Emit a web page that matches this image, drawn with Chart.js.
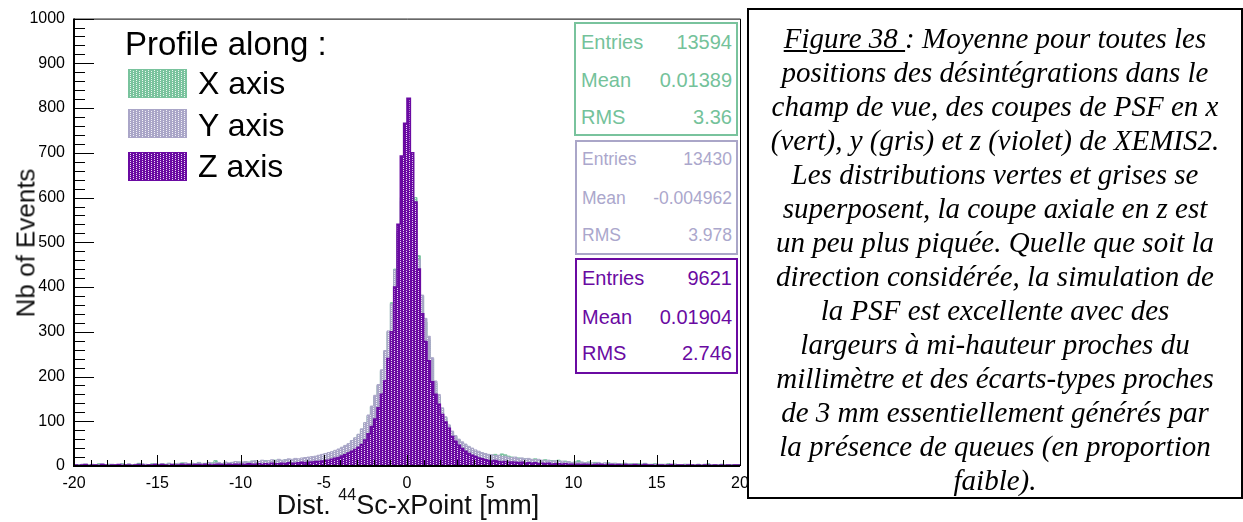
<!DOCTYPE html>
<html>
<head>
<meta charset="utf-8">
<script src="https://cdn.jsdelivr.net/npm/chart.js@4.4.1/dist/chart.umd.min.js"></script>
<style>
  html, body { margin:0; padding:0; background:#fff; }
  body { width:1243px; height:522px; position:relative; overflow:hidden; font-family:"Liberation Sans", Arial, sans-serif; }
  #c { position:absolute; left:0; top:0; }
  .abs { position:absolute; white-space:nowrap; }
  #ytitle { left:26px; top:243px; font-size:26px; color:#111; transform:translate(-50%,-50%) rotate(-90deg); }
  #xtitle { left:408px; top:505px; font-size:27px; color:#111; transform:translate(-50%,-50%); }
  #xtitle sup { font-size:16px; position:relative; top:-4px; }
  .lg-title { left:125px; top:27px; font-size:33px; line-height:34px; color:#000; }
  .sw { position:absolute; left:128px; width:59px; height:29px; box-sizing:border-box; }
  .lg-txt { left:198px; font-size:32px; line-height:34px; color:#000; }
  .stat { position:absolute; box-sizing:border-box; border:2px solid; background:#fff; }
  .row { position:absolute; left:5px; right:4px; height:24px; line-height:24px; display:flex; justify-content:space-between; }
  #caption { position:absolute; left:747px; top:8px; width:496px; height:491px; box-sizing:border-box; border:2px solid #000;
             font-family:"Liberation Serif","Times New Roman",serif; font-style:italic; font-size:29px; line-height:34px;
             text-align:center; color:#000; padding-top:11px; }
</style>
</head>
<body>
<canvas id="c" width="760" height="522"></canvas>

<div id="ytitle" class="abs">Nb of Events</div>
<div id="xtitle" class="abs">Dist. <sup>44</sup>Sc-xPoint [mm]</div>

<div class="abs lg-title">Profile along :</div>
<div class="sw" id="sw0" style="top:69px"></div>
<div class="sw" id="sw1" style="top:109px"></div>
<div class="sw" id="sw2" style="top:152px"></div>
<div class="abs lg-txt" id="lt0" style="top:66px"></div>
<div class="abs lg-txt" id="lt1" style="top:108px"></div>
<div class="abs lg-txt" id="lt2" style="top:149px"></div>

<div id="stats"></div>

<div id="caption">
<u>Figure 38 </u>: Moyenne pour toutes les<br>
positions des désintégrations dans le<br>
champ de vue, des coupes de PSF en x<br>
(vert), y (gris) et z (violet) de XEMIS2.<br>
Les distributions vertes et grises se<br>
superposent, la coupe axiale en z est<br>
un peu plus piquée. Quelle que soit la<br>
direction considérée, la simulation de<br>
la PSF est excellente avec des<br>
largeurs à mi-hauteur proches du<br>
millimètre et des écarts-types proches<br>
de 3 mm essentiellement générés par<br>
la présence de queues (en proportion<br>
faible).
</div>

<script>
// ---------- DATA ----------
const seriesNames = ["X axis", "Y axis", "Z axis"];
const binLow = -20;
const binWidth = 0.2;
const xTickLabels = [-20, -15, -10, -5, 0, 5, 10, 15, 20];
const yTickLabels = [0, 100, 200, 300, 400, 500, 600, 700, 800, 900, 1000];

// X axis profile (green), 200 bins from -20 to 20
const xAxisCounts = [
  2,3,1,4,2,3,2,5,3,2,4,3,2,3,5,2,4,3,3,6,4,2,3,5,4,
  3,5,4,6,3,5,4,7,5,4,6,5,8,4,6,5,7,12,6,5,7,6,8,7,9,
  8,7,9,11,8,10,9,12,10,11,13,10,12,14,11,13,15,12,14,18,15,17,20,18,22,
  26,28,30,33,36,40,44,48,56,62,70,82,96,112,132,155,180,212,255,300,365,440,520,600,688,
  694,690,600,470,380,322,282,240,186,155,128,108,90,76,66,58,52,47,42,38,34,31,28,27,25,
  24,26,23,27,25,22,20,19,18,17,16,15,14,16,13,12,14,11,12,10,13,9,11,10,8,
  9,12,8,7,9,6,8,7,5,6,7,5,6,4,5,6,4,5,3,5,4,6,3,4,5,
  3,4,2,5,3,4,3,2,4,3,2,3,4,2,3,5,2,3,2,4,3,2,3,2,3
];
// Y axis profile (grey)
const yAxisCounts = [
  3,2,4,3,2,4,3,3,5,2,3,4,3,2,4,3,5,3,4,3,5,4,3,4,5,
  4,5,3,6,4,5,6,4,7,5,6,5,7,6,5,8,6,7,8,6,9,7,8,10,9,
  9,10,8,11,12,10,13,11,12,14,12,15,13,14,16,15,17,16,18,19,20,21,22,24,26,
  28,30,32,35,38,42,46,50,57,63,71,83,97,114,134,158,182,215,258,302,362,438,525,592,600,
  604,595,560,462,382,330,290,242,190,160,130,110,92,78,68,60,54,49,44,40,36,33,30,28,26,
  25,23,24,21,22,20,19,20,17,18,16,17,15,14,15,13,12,13,11,12,10,11,9,10,8,
  9,8,9,7,8,7,6,8,6,7,5,6,6,5,4,6,5,4,5,3,4,5,4,3,4,
  4,3,4,2,3,4,3,2,3,4,2,3,3,2,4,2,3,2,3,2,3,2,2,3,2
];
// Z axis profile (violet)
const zAxisCounts = [
  2,1,2,3,1,2,2,1,3,2,1,2,2,3,1,2,2,1,2,3,2,1,2,2,3,
  2,3,2,1,3,2,2,4,2,3,2,3,3,2,4,3,2,3,4,3,3,4,3,4,4,
  4,3,5,4,4,5,3,5,4,6,5,5,6,5,7,6,6,7,8,7,8,9,10,10,11,
  12,13,15,17,19,22,25,29,33,37,42,48,58,72,88,105,130,160,190,240,300,400,540,693,766,
  822,700,590,440,340,278,235,188,160,138,115,98,84,66,55,46,39,33,28,24,21,18,16,14,12,
  11,12,10,9,10,8,9,8,7,8,6,7,6,7,5,6,5,6,4,5,5,4,5,4,4,
  3,4,3,4,3,2,3,4,3,2,3,3,2,3,2,3,2,2,3,2,2,3,2,2,1,
  2,2,1,2,3,1,2,2,1,2,2,1,2,1,2,2,1,2,1,2,1,2,1,2,2
];

const statEntries = ["13594", "13430", "9621"];
const statMeans = ["0.01389", "-0.004962", "0.01904"];
const statRMS = ["3.36", "3.978", "2.746"];

// ---------- STYLE ----------
const colors = ["#79c39d", "#aaa6c8", "#6a0aa2"];
const textColors = ["#74c29a", "#aba7cc", "#6a0aa2"];

function makeTile(color) {
  const c = document.createElement('canvas');
  c.width = 6; c.height = 6;
  const g = c.getContext('2d');
  g.fillStyle = color; g.fillRect(0, 0, 6, 6);
  g.fillStyle = 'rgba(255,255,255,0.85)';
  [[1,0],[1,2],[1,4],[4,1],[4,3],[4,5]].forEach(p => g.fillRect(p[0], p[1], 1, 1));
  return c;
}
const tiles = colors.map(makeTile);
const ctx = document.getElementById('c').getContext('2d');
const patterns = tiles.map(t => ctx.createPattern(t, 'repeat'));

// legend swatches
for (let i = 0; i < 3; i++) {
  const sw = document.getElementById('sw' + i);
  sw.style.backgroundImage = 'url(' + tiles[i].toDataURL() + ')';
  sw.style.border = '1px solid ' + colors[i];
  document.getElementById('lt' + i).textContent = seriesNames[i];
}

// stats boxes
const boxGeom = [
  {left:574, top:22, w:164, h:114, fs:20, rows:[20,58,95]},
  {left:575, top:140, w:163, h:115, fs:17.5, rows:[19,58,95]},
  {left:575, top:258, w:163, h:116, fs:20, rows:[20,59,95]}
];
const statsDiv = document.getElementById('stats');
for (let i = 0; i < 3; i++) {
  const g = boxGeom[i];
  const b = document.createElement('div');
  b.className = 'stat';
  Object.assign(b.style, {left:g.left+'px', top:g.top+'px', width:g.w+'px', height:g.h+'px',
    borderColor: colors[i], color: textColors[i], fontSize: g.fs + 'px'});
  const labels = ["Entries", "Mean", "RMS"];
  const vals = [statEntries[i], statMeans[i], statRMS[i]];
  for (let r = 0; r < 3; r++) {
    const row = document.createElement('div');
    row.className = 'row';
    row.style.top = (g.rows[r] - 12 - 2) + 'px';
    const a = document.createElement('span'); a.textContent = labels[r];
    const v = document.createElement('span'); v.textContent = vals[r];
    row.appendChild(a); row.appendChild(v);
    b.appendChild(row);
  }
  statsDiv.appendChild(b);
}

// histogram as step points at bin low edges, closed at the upper edge
function toSteps(counts) {
  const pts = counts.map((c, i) => ({x: binLow + binWidth * i, y: c}));
  pts.push({x: binLow + binWidth * counts.length, y: counts[counts.length - 1]});
  return pts;
}

const rootAxes = {
  id: 'rootAxes',
  afterDatasetsDraw(chart) {
    const {ctx, chartArea: a, scales: {x, y}} = chart;
    ctx.save();
    ctx.strokeStyle = '#000';
    ctx.lineWidth = 1;
    ctx.beginPath();
    ctx.moveTo(a.left, a.top + 0.5); ctx.lineTo(a.right + 0.5, a.top + 0.5);
    ctx.lineTo(a.right + 0.5, a.bottom);
    ctx.stroke();
    ctx.beginPath();
    for (let v = 0; v <= 1000; v += 20) {
      const py = Math.round(y.getPixelForValue(v)) + 0.5;
      const len = (v % 100 === 0) ? 20 : 11;
      ctx.moveTo(a.left, py); ctx.lineTo(a.left + len, py);
    }
    for (let v = -20; v <= 20; v += 1) {
      const px = Math.round(x.getPixelForValue(v)) + 0.5;
      const len = (v % 5 === 0) ? 11 : 6;
      ctx.moveTo(px, a.bottom); ctx.lineTo(px, a.bottom - len);
    }
    ctx.stroke();
    ctx.lineWidth = 2;
    ctx.beginPath();
    ctx.moveTo(a.left, a.top); ctx.lineTo(a.left, a.bottom);
    ctx.lineTo(a.right, a.bottom);
    ctx.stroke();
    ctx.restore();
  }
};

const tickFont = {family: '"Liberation Sans", Arial, sans-serif', size: 16};

new Chart(ctx, {
  type: 'line',
  data: {
    datasets: [2, 1, 0].map(i => ({
      label: seriesNames[i],
      data: toSteps([xAxisCounts, yAxisCounts, zAxisCounts][i]),
      stepped: true,
      fill: 'origin',
      backgroundColor: patterns[i],
      borderColor: colors[i],
      borderWidth: i === 2 ? 1.6 : 1,
      pointRadius: 0,
      order: 3 - i
    }))
  },
  options: {
    responsive: false,
    animation: false,
    layout: {padding: {top: 17, right: 20, left: 0, bottom: 0}},
    plugins: {legend: {display: false}, tooltip: {enabled: false}},
    scales: {
      x: {
        type: 'linear', min: xTickLabels[0], max: xTickLabels[xTickLabels.length - 1],
        afterBuildTicks: s => { s.ticks = xTickLabels.map(v => ({value: v})); },
        ticks: {font: tickFont, color: '#000', padding: 8, maxRotation: 0, autoSkip: false, callback: v => String(v)},
        grid: {display: false, drawTicks: false},
        border: {display: false},
        afterFit: s => { s.height = 56; }
      },
      y: {
        type: 'linear', min: yTickLabels[0], max: yTickLabels[yTickLabels.length - 1],
        afterBuildTicks: s => { s.ticks = yTickLabels.map(v => ({value: v})); },
        ticks: {font: tickFont, color: '#000', padding: 9, autoSkip: false, callback: v => String(v)},
        grid: {display: false, drawTicks: false},
        border: {display: false},
        afterFit: s => { s.width = 74; }
      }
    }
  },
  plugins: [rootAxes]
});
</script>
</body>
</html>
